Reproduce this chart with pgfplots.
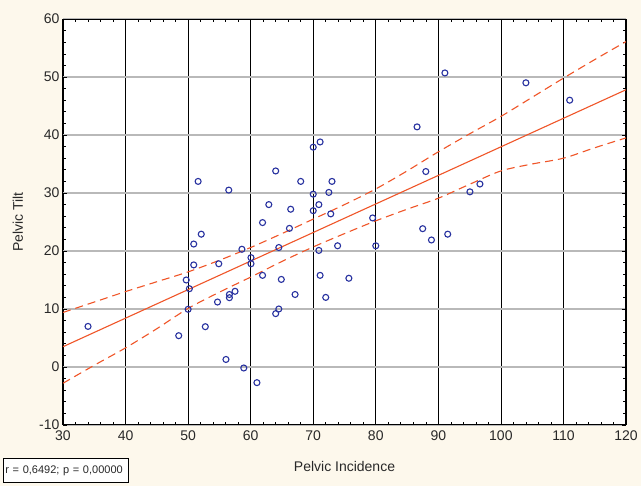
\documentclass[border=0pt]{standalone}
\usepackage{pgfplots}
\pgfplotsset{compat=1.18}
\usepackage{fontspec}
\setmainfont{Liberation Sans}
\definecolor{bgcream}{RGB}{253,248,236}
\definecolor{ptblue}{RGB}{40,50,160}
\definecolor{fitred}{RGB}{240,85,40}
\definecolor{hgrid}{RGB}{185,185,185}
\definecolor{txt}{RGB}{40,40,40}
\begin{document}
\begin{tikzpicture}[x=1pt,y=1pt]
\fill[bgcream] (-63,-61) rectangle (578,425);
\useasboundingbox (-63,-61) rectangle (578,425);
\begin{axis}[at={(0,0)}, anchor=south west, scale only axis,
  width=563pt, height=406pt,
  xmin=30, xmax=120, ymin=-10, ymax=60,
  xtick distance=10, ytick distance=10,
  minor x tick num=4, minor y tick num=4,
  axis background/.style={fill=white},
  tick align=inside, tick pos=both,
  major tick length=4pt, minor tick length=3pt,
  every tick/.style={black, line width=0.6pt},
  axis line style={black, line width=1pt},
  xmajorgrids, ymajorgrids,
  x grid style={black, line width=0.7pt},
  y grid style={hgrid, line width=1.6pt},
  /pgf/number format/assume math mode=true,
  tick label style={font=\fontsize{14}{16}\selectfont, text=txt},
  xticklabel style={yshift=-2pt},
  yticklabel style={xshift=0pt},
  xlabel={Pelvic Incidence}, ylabel={Pelvic Tilt},
  label style={font=\fontsize{14}{16}\selectfont, text=txt},
  xlabel style={at={(rel axis cs:0.5,-0.1034)}, anchor=center},
  ylabel style={at={(rel axis cs:-0.08,0.5)}, anchor=center},
  clip=true,
]
\addplot[only marks, mark=o, mark size=3pt, ptblue, mark options={line width=1.1pt}] coordinates {
(34.0,7.0) (91.05,50.7) (104.0,49.0) (111.0,46.0) (86.6,41.4) (88.0,33.7)
(96.65,31.55) (95.05,30.2) (79.5,25.7) (87.5,23.85) (88.9,21.9) (91.5,22.9)
(80.0,20.9) (75.7,15.3)
(70.0,37.9) (71.1,38.8) (64.0,33.8) (51.6,32.0) (56.5,30.5) (68.0,32.0)
(73.0,32.0) (70.0,29.8) (72.5,30.1) (62.9,28.0) (70.9,28.0) (66.4,27.2)
(70.0,26.95) (72.8,26.4) (61.9,24.9) (52.1,22.9) (66.2,23.9) (50.9,21.2)
(58.6,20.3) (64.5,20.6) (70.9,20.1) (73.9,20.9) (60.05,18.85) (60.05,17.8)
(50.9,17.6) (54.9,17.8) (61.9,15.8) (71.1,15.8) (49.7,15.0) (64.9,15.1)
(50.2,13.5) (57.5,13.05) (56.6,12.5) (56.6,11.95) (54.7,11.2) (67.1,12.5)
(72.0,12.0) (50.0,9.95) (64.5,10.0) (64.0,9.2) (52.75,6.95) (48.5,5.4)
(56.05,1.3) (58.9,-0.17) (61.0,-2.7)
};
\addplot[fitred, line width=1.1pt] coordinates {(30,3.5) (120,47.8)};
\addplot[fitred, line width=1.1pt, dash pattern=on 8pt off 5pt, smooth] coordinates {
(30,9.4) (35,11.2) (40,13.0) (45,14.7) (50,16.4) (55,18.4) (60,20.6) (65,23.0)
(70,25.5) (75,28.0) (80,30.7) (85,33.8) (90,37.1) (95,40.2) (100,43.2)
(105,46.5) (110,49.8) (115,53.0) (120,56.1)
};
\addplot[fitred, line width=1.1pt, dash pattern=on 8pt off 5pt, smooth] coordinates {
(30,-2.8) (35,0.3) (40,3.3) (45,6.6) (50,10.1) (55,12.9) (60,15.5) (65,18.2)
(70,20.7) (75,23.0) (80,25.2) (85,27.2) (90,29.1) (95,31.5) (100,33.8)
(105,35.0) (110,36.0) (115,37.8) (120,39.5)
};
\end{axis}
\node[draw=black, line width=0.7pt, fill=white, anchor=south west,
  minimum width=125pt, minimum height=24pt, inner xsep=2pt, inner ysep=0pt,
  text width=121pt, align=left, font=\fontsize{11}{13}\selectfont, text=txt]
  at (-60,-58) {r = 0,6492; p = 0,00000};
\end{tikzpicture}
\end{document}
